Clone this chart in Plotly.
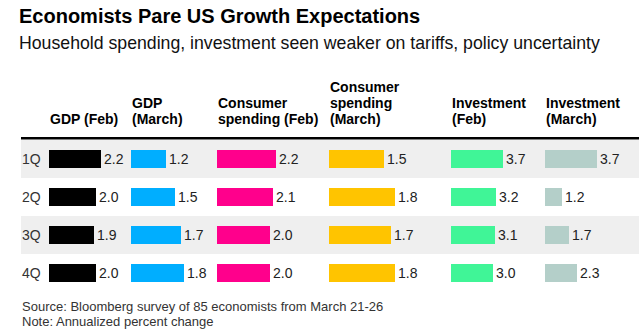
import plotly.graph_objects as go

# ---------------- data ----------------
quarters = ["1Q", "2Q", "3Q", "4Q"]
column_titles = [
    ["GDP (Feb)"],
    ["GDP", "(March)"],
    ["Consumer", "spending (Feb)"],
    ["Consumer", "spending", "(March)"],
    ["Investment", "(Feb)"],
    ["Investment", "(March)"],
]
gdp_feb = [2.2, 2.0, 1.9, 2.0]
gdp_march = [1.2, 1.5, 1.7, 1.8]
consumer_feb = [2.2, 2.1, 2.0, 2.0]
consumer_march = [1.5, 1.8, 1.7, 1.8]
investment_feb = [3.7, 3.2, 3.1, 3.0]
investment_march = [3.7, 1.2, 1.7, 2.3]
series = [gdp_feb, gdp_march, consumer_feb, consumer_march, investment_feb, investment_march]

title = "Economists Pare US Growth Expectations"
subtitle = "Household spending, investment seen weaker on tariffs, policy uncertainty"
footer = ["Source: Bloomberg survey of 85 economists from March 21-26",
          "Note: Annualized percent change"]

# ---------------- styling / layout ----------------
W, H = 644, 332
FONT = "Liberation Sans"
colors = ["#000000", "#00aeff", "#ff008c", "#ffc400", "#40f597", "#b4cfc9"]
col_x0 = [49, 131, 217, 329, 451, 545]          # px where each column's bars start
col_scale = [23.7, 29.2, 26.7, 36.7, 14.05, 14.1]  # px per percentage point
col_w = 70                                       # px width of each column axis domain

row_top, row_h = 140, 38
y_bottom_px = row_top + row_h * len(quarters)


def px(x):
    return x / W


def py(y):
    return 1 - y / H


fig = go.Figure()
layout_axes = {}
for i, (vals, c) in enumerate(zip(series, colors)):
    ax = "x" if i == 0 else f"x{i + 1}"
    key = "xaxis" if i == 0 else f"xaxis{i + 1}"
    fig.add_trace(go.Bar(
        x=vals, y=quarters, orientation="h", xaxis=ax, yaxis="y",
        marker=dict(color=c, line=dict(width=0)),
        width=18 / row_h,
        text=[f"{v:.1f}" for v in vals], textposition="outside",
        textfont=dict(family=FONT, size=14, color="#222222"),
        constraintext="none", cliponaxis=False,
        hoverinfo="skip", showlegend=False,
    ))
    layout_axes[key] = dict(
        domain=[px(col_x0[i]), px(col_x0[i] + col_w)],
        range=[0, col_w / col_scale[i]],
        anchor="y", visible=False, fixedrange=True,
    )

fig.update_layout(**layout_axes)
fig.update_layout(
    width=W, height=H,
    margin=dict(l=0, r=0, t=0, b=0),
    paper_bgcolor="white", plot_bgcolor="rgba(0,0,0,0)",
    font=dict(family=FONT, color="#000"),
    yaxis=dict(
        type="category", categoryorder="array", categoryarray=quarters,
        range=[len(quarters) - 0.5, -0.5],
        domain=[py(y_bottom_px), py(row_top)],
        anchor="x", visible=False, fixedrange=True,
    ),
    bargap=0,
)

shapes = []
for i, q in enumerate(quarters):
    if i % 2 == 0:
        shapes.append(dict(type="rect", xref="paper", yref="y",
                           x0=px(21), x1=px(639), y0=i - 0.5, y1=i + 0.5,
                           fillcolor="#efefef", line=dict(width=0), layer="below"))
shapes.append(dict(type="line", xref="paper", yref="paper",
                   x0=px(21), x1=px(639), y0=py(138.3), y1=py(138.3),
                   line=dict(color="#000", width=2.5)))
fig.update_layout(shapes=shapes)

ann = []
ann.append(dict(text=f"<b>{title}</b>", xref="paper", yref="paper",
                x=px(17), y=py(15.5), xanchor="left", yanchor="middle",
                showarrow=False, font=dict(size=20, color="#000", family=FONT)))
ann.append(dict(text=subtitle, xref="paper", yref="paper",
                x=px(17), y=py(43.5), xanchor="left", yanchor="middle",
                showarrow=False, font=dict(size=17.7, color="#111", family=FONT)))
for i, lines in enumerate(column_titles):
    n = len(lines)
    for j, line in enumerate(lines):
        yc = 118.5 - (n - 1 - j) * 15.5
        ann.append(dict(text=f"<b>{line}</b>", xref="paper", yref="paper",
                        x=px(col_x0[i] - 1), y=py(yc), xanchor="left", yanchor="middle",
                        showarrow=False, font=dict(size=14, color="#000", family=FONT)))
for q in quarters:
    ann.append(dict(text=q, xref="paper", yref="y", x=px(20), y=q,
                    xanchor="left", yanchor="middle", showarrow=False,
                    font=dict(size=14, color="#333", family=FONT)))
for k, line in enumerate(footer):
    ann.append(dict(text=line, xref="paper", yref="paper",
                    x=px(20), y=py(306.5 + 15 * k), xanchor="left", yanchor="middle",
                    showarrow=False, font=dict(size=13, color="#333", family=FONT)))
fig.update_layout(annotations=ann)

fig.write_html("out.html", config={"displayModeBar": False})
